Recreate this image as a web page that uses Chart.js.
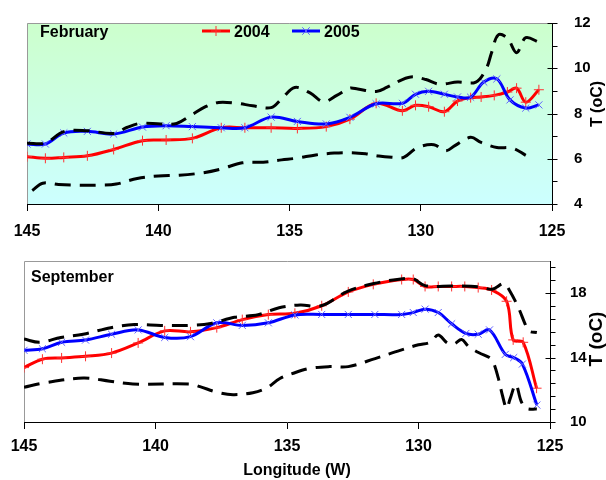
<!DOCTYPE html>
<html>
<head>
<meta charset="utf-8">
<script src="https://cdn.jsdelivr.net/npm/chart.js@4.4.0/dist/chart.umd.min.js"></script>
<style>
  html, body { margin: 0; padding: 0; background: #fff; }
  #wrap { position: relative; width: 606px; height: 480px; }
  .panel { position: absolute; left: 0; width: 606px; height: 240px; }
</style>
</head>
<body>
<div id="wrap">
  <div class="panel" style="top:0"><canvas id="febChart" width="606" height="240"></canvas></div>
  <div class="panel" style="top:240px"><canvas id="sepChart" width="606" height="240"></canvas></div>
</div>
<script>
// Longitude ticks (both panels)
const lonTicks = [145, 140, 135, 130, 125];

// February panel
const febYTicks = [4, 6, 8, 10, 12];
const feb2004Lon = [145, 144.3, 143.6, 142.7, 141.7, 140.6, 139.7, 138.7, 137.6, 136.7, 135.7, 134.7, 133.6, 132.7, 131.7, 130.7, 130.2, 129.7, 129.1, 128.6, 128.1, 127.7, 127.2, 126.7, 126.35, 126.0, 125.5];
const feb2004T   = [6.09, 6.02, 6.06, 6.13, 6.41, 6.8, 6.83, 6.9, 7.37, 7.37, 7.37, 7.34, 7.42, 7.75, 8.45, 8.12, 8.36, 8.3, 8.08, 8.55, 8.7, 8.73, 8.8, 8.95, 9.12, 8.5, 9.05];
const feb2005Lon = [145, 144.3, 143.6, 142.7, 141.7, 140.6, 139.7, 138.7, 137.6, 136.7, 135.7, 134.7, 133.6, 132.7, 131.7, 130.7, 130.2, 129.7, 129.1, 128.6, 128.1, 127.6, 127.1, 126.6, 126.0, 125.5];
const feb2005T   = [6.65, 6.65, 7.14, 7.21, 7.09, 7.4, 7.46, 7.42, 7.37, 7.37, 7.84, 7.65, 7.54, 7.83, 8.43, 8.45, 8.85, 8.98, 8.85, 8.73, 8.72, 9.39, 9.53, 8.6, 8.24, 8.38];
const febHiLon = [145, 144.3, 143.6, 142.7, 141.7, 141.2, 140.7, 139.9, 139.3, 138.7, 138.2, 137.7, 137.0, 136.4, 135.7, 135.3, 134.8, 134.2, 133.7, 133.2, 132.7, 132.4, 131.7, 131.3, 130.7, 130.3, 129.8, 129.3, 128.6, 127.9, 127.5, 127.3, 127.05, 126.7, 126.35, 126.0, 125.5];
const febHiT   = [6.68, 6.7, 7.2, 7.24, 7.12, 7.38, 7.56, 7.54, 7.56, 7.96, 8.3, 8.49, 8.45, 8.34, 8.26, 8.65, 9.15, 8.9, 8.52, 8.8, 9.12, 9.08, 8.97, 9.15, 9.5, 9.62, 9.5, 9.3, 9.39, 9.39, 10.0, 10.7, 11.47, 11.33, 10.69, 11.35, 11.15];
const febLoLon = [144.8, 144.4, 143.8, 143.0, 142.2, 141.6, 140.8, 140.0, 139.2, 138.3, 137.6, 136.8, 136.0, 135.3, 134.7, 134.0, 133.3, 132.7, 132.1, 131.6, 131.1, 130.65, 130.15, 129.5, 129.05, 128.7, 128.1, 127.7, 127.1, 126.5, 126.0];
const febLoT   = [4.6, 4.92, 4.86, 4.83, 4.83, 4.88, 5.13, 5.24, 5.27, 5.38, 5.55, 5.82, 5.85, 5.95, 6.03, 6.17, 6.25, 6.27, 6.22, 6.12, 6.07, 6.06, 6.48, 6.62, 6.35, 6.58, 6.95, 6.72, 6.5, 6.47, 6.15];

// September panel
const sepYTicks = [10, 14, 18];
const sep2004Lon = [145, 144.3, 143.57, 142.66, 141.67, 140.66, 139.65, 138.67, 137.67, 136.7, 135.71, 134.7, 133.68, 132.67, 131.72, 130.64, 130.2, 129.75, 129.25, 128.74, 128.24, 127.73, 127.22, 126.65, 126.4, 126.02, 125.51];
const sep2004T   = [13.38, 13.9, 13.98, 14.08, 14.28, 14.91, 15.66, 15.6, 15.86, 16.36, 16.67, 16.75, 17.22, 18.08, 18.55, 18.85, 18.85, 18.42, 18.42, 18.42, 18.42, 18.35, 18.2, 17.5, 15.1, 14.95, 12.1];
const sep2005Lon = [145, 144.3, 143.57, 142.66, 141.67, 140.66, 139.65, 138.67, 137.67, 136.7, 135.71, 134.7, 133.68, 132.67, 131.66, 130.64, 130.2, 129.75, 129.25, 128.74, 128.2, 127.73, 127.3, 126.7, 126.38, 126.05, 125.5];
const sep2005T   = [14.45, 14.55, 14.95, 15.09, 15.45, 15.72, 15.25, 15.3, 16.16, 16.0, 16.16, 16.65, 16.68, 16.68, 16.68, 16.68, 16.8, 17.01, 16.8, 16.1, 15.5, 15.45, 15.72, 14.2, 14.0, 13.6, 11.05];
const sepHiLon = [145, 144.4, 143.6, 142.75, 141.7, 140.8, 139.8, 138.7, 137.9, 137.0, 136.1, 135.3, 134.5, 133.7, 132.7, 131.7, 130.6, 130.2, 129.75, 128.7, 127.7, 127.2, 126.75, 126.55, 126.2, 125.95, 125.8, 125.5];
const sepHiT   = [15.15, 14.95, 15.25, 15.45, 15.86, 16.05, 16.0, 16.0, 16.12, 16.5, 16.66, 17.1, 17.27, 17.22, 18.12, 18.6, 18.9, 18.9, 18.47, 18.45, 18.4, 18.25, 18.6, 18.2, 17.1, 16.1, 15.65, 15.56];
const sepLoLon = [145, 144.27, 142.75, 141.73, 140.86, 138.69, 138.31, 137.67, 137.05, 136.3, 135.77, 135.27, 134.76, 134.13, 133.37, 132.67, 131.65, 130.7, 130.0, 129.56, 129.25, 128.9, 128.65, 128.36, 128.1, 127.7, 127.3, 127.16, 126.97, 126.8, 126.65, 126.52, 126.3, 126.1, 125.9, 125.5];
const sepLoT   = [12.16, 12.42, 12.73, 12.53, 12.36, 12.36, 12.2, 11.85, 11.7, 11.82, 12.12, 12.7, 13.03, 13.33, 13.44, 13.44, 13.94, 14.45, 14.8, 14.95, 15.4, 14.9, 14.85, 15.12, 14.7, 14.3, 14.0, 13.74, 12.75, 11.6, 10.85, 11.42, 12.33, 11.3, 10.85, 10.8];

const FONT = '"Liberation Sans", Arial, sans-serif';

function pts(lon, t) {
    return lon.map((x, i) => ({ x: x, y: t[i] }));
}

function yearSet(label, lon, t, color, markColor, style, order) {
    return {
        label: label,
        data: pts(lon, t),
        borderColor: color,
        borderWidth: 3,
        tension: 0.35,
        pointStyle: style,
        pointRadius: 5,
        pointBorderWidth: 1,
        pointBorderColor: markColor,
        pointBackgroundColor: markColor,
        order: order
    };
}

function boundSet(lon, t) {
    return {
        label: '',
        data: pts(lon, t),
        borderColor: '#000',
        borderWidth: 3,
        borderDash: [16, 9],
        tension: 0.35,
        pointRadius: 0,
        order: 1
    };
}

function drawMark(ctx, style, x, y, r, color) {
    ctx.save();
    ctx.strokeStyle = color;
    ctx.lineWidth = 1;
    ctx.beginPath();
    if (style === 'cross') {
        ctx.moveTo(x - r, y); ctx.lineTo(x + r, y);
        ctx.moveTo(x, y - r); ctx.lineTo(x, y + r);
    } else {
        const d = r * 0.75;
        ctx.moveTo(x - d, y - d); ctx.lineTo(x + d, y + d);
        ctx.moveTo(x - d, y + d); ctx.lineTo(x + d, y - d);
    }
    ctx.stroke();
    ctx.restore();
}

// background, frame, y tick marks, texts and legend
const decor = {
    id: 'decor',
    beforeDraw(chart, args, o) {
        const ctx = chart.ctx;
        const a = chart.chartArea;
        ctx.save();
        if (o.fill) {
            const g = ctx.createLinearGradient(0, a.top, 0, a.bottom);
            g.addColorStop(0, o.fill[0]);
            g.addColorStop(1, o.fill[1]);
            ctx.fillStyle = g;
            ctx.fillRect(a.left, a.top, a.right - a.left, a.bottom - a.top);
        }
        ctx.strokeStyle = '#999';
        ctx.lineWidth = 1;
        ctx.beginPath();
        ctx.moveTo(Math.round(a.left) + 0.5, a.bottom);
        ctx.lineTo(Math.round(a.left) + 0.5, Math.round(a.top) + 0.5);
        ctx.lineTo(a.right, Math.round(a.top) + 0.5);
        ctx.stroke();
        ctx.restore();
    },
    afterDraw(chart, args, o) {
        const ctx = chart.ctx;
        const y = chart.scales.y;
        const ax = Math.round(chart.chartArea.right) + 0.5;
        ctx.save();
        ctx.strokeStyle = '#000';
        ctx.lineWidth = 1;
        ctx.beginPath();
        const n = Math.floor((y.max - y.min) / o.minorStep + 1e-6);
        for (let i = 0; i <= n; i++) {
            const v = y.min + i * o.minorStep;
            const py = Math.round(y.getPixelForValue(v)) + 0.5;
            const k = (v - y.min) / o.majorStep;
            const major = Math.abs(k - Math.round(k)) < 1e-6;
            ctx.moveTo(major ? ax - 5 : ax, py);
            ctx.lineTo(ax + 5, py);
        }
        ctx.stroke();

        ctx.fillStyle = '#000';
        ctx.textBaseline = 'alphabetic';
        (o.texts || []).forEach(t => {
            ctx.font = 'bold ' + t.size + 'px ' + FONT;
            if (t.rotate) {
                ctx.save();
                ctx.translate(t.x, t.y);
                ctx.rotate(-Math.PI / 2);
                ctx.textAlign = 'center';
                ctx.fillText(t.text, 0, 0);
                ctx.restore();
            } else {
                ctx.textAlign = t.align || 'left';
                ctx.fillText(t.text, t.x, t.y);
            }
        });

        (o.legend || []).forEach(item => {
            const ds = chart.data.datasets[item.index];
            ctx.strokeStyle = ds.borderColor;
            ctx.lineWidth = 3;
            ctx.beginPath();
            ctx.moveTo(item.x, item.y);
            ctx.lineTo(item.x + 28, item.y);
            ctx.stroke();
            drawMark(ctx, ds.pointStyle, item.x + 14, item.y, 5, ds.pointBorderColor);
            ctx.font = 'bold 16px ' + FONT;
            ctx.textAlign = 'left';
            ctx.fillStyle = '#000';
            ctx.fillText(ds.label, item.x + 32, item.y + 6);
        });
        ctx.restore();
    }
};

function makeChart(id, sets, cfg) {
    return new Chart(document.getElementById(id), {
        type: 'line',
        data: { datasets: sets },
        plugins: [decor],
        options: {
            responsive: false,
            animation: false,
            devicePixelRatio: 1,
            layout: { padding: { left: cfg.left, top: cfg.top, right: 0, bottom: 0 } },
            plugins: {
                legend: { display: false },
                tooltip: { enabled: false },
                decor: cfg.decor
            },
            scales: {
                x: {
                    type: 'linear',
                    position: 'bottom',
                    reverse: true,
                    min: 125,
                    max: 145,
                    afterBuildTicks: s => { s.ticks = lonTicks.map(v => ({ value: v })); },
                    afterFit: s => { s.height = cfg.xHeight; },
                    grid: { drawOnChartArea: false, drawTicks: true, tickLength: 7, color: '#000' },
                    border: { display: true, color: '#000', width: 1 },
                    ticks: {
                        color: '#000',
                        padding: cfg.xPad,
                        maxRotation: 0,
                        autoSkip: false,
                        font: { family: FONT, size: 16, weight: 'bold' }
                    }
                },
                y: {
                    type: 'linear',
                    position: 'right',
                    min: cfg.yMin,
                    max: cfg.yMax,
                    afterBuildTicks: s => { s.ticks = cfg.yTicks.map(v => ({ value: v })); },
                    afterFit: s => { s.width = cfg.yWidth; },
                    grid: { display: false },
                    border: { display: true, color: '#000', width: 1 },
                    ticks: {
                        color: '#000',
                        padding: cfg.yPad,
                        font: { family: FONT, size: 15, weight: 'bold' }
                    }
                }
            }
        }
    });
}

makeChart('febChart', [
    boundSet(febHiLon, febHiT),
    boundSet(febLoLon, febLoT),
    yearSet('2005', feb2005Lon, feb2005T, '#0000ff', '#6060ff', 'crossRot', 2),
    yearSet('2004', feb2004Lon, feb2004T, '#ff0000', '#ff3030', 'cross', 3)
], {
    left: 27, top: 14, xHeight: 36, yWidth: 54, yMin: 4, yMax: 12, yTicks: febYTicks, yPad: 14, xPad: 11,
    decor: {
        fill: ['#ccffcc', '#ccffff'],
        minorStep: 1,
        majorStep: 2,
        texts: [
            { text: 'February', x: 40, y: 37, size: 16 },
            { text: 'T (oC)', x: 602, y: 104, size: 16, rotate: true }
        ],
        legend: [
            { index: 3, x: 202, y: 31 },
            { index: 2, x: 292, y: 31 }
        ]
    }
});

makeChart('sepChart', [
    boundSet(sepHiLon, sepHiT),
    boundSet(sepLoLon, sepLoT),
    yearSet('2005', sep2005Lon, sep2005T, '#0000ff', '#6060ff', 'crossRot', 2),
    yearSet('2004', sep2004Lon, sep2004T, '#ff0000', '#ff3030', 'cross', 3)
], {
    left: 24, top: 17, xHeight: 58, yWidth: 56, yMin: 10, yMax: 20, yTicks: sepYTicks, yPad: 12, xPad: 8,
    decor: {
        fill: null,
        minorStep: 0.8,
        majorStep: 4,
        texts: [
            { text: 'September', x: 31, y: 42, size: 16 },
            { text: 'T (oC)', x: 602, y: 99, size: 19, rotate: true },
            { text: 'Longitude (W)', x: 297, y: 235, size: 16, align: 'center' }
        ]
    }
});
</script>
</body>
</html>
